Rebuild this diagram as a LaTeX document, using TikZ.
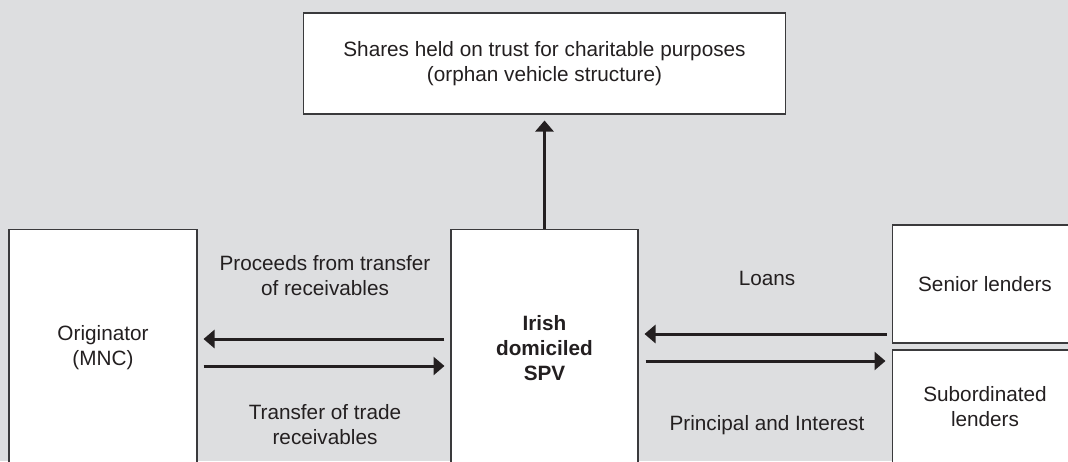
\documentclass[tikz,border=0pt]{standalone}
\usepackage{fontspec}
\setmainfont{Liberation Sans}
\definecolor{panelbg}{HTML}{DDDEE0}
\definecolor{inkdark}{HTML}{231F20}
\definecolor{framegray}{HTML}{3A3A3C}
\usetikzlibrary{arrows.meta, positioning, calc}
\tikzset{
  entity/.style={
    draw=framegray, fill=white, line width=0.6pt,
    font=\fontsize{11.8}{14.2}\selectfont, text=inkdark, align=center,
    inner sep=0pt
  },
  flow/.style={-{Triangle[length=0.22cm,width=0.36cm]}, line width=1.7pt,
    color=inkdark, shorten >=0.12cm},
  flowlbl/.style={font=\fontsize{11.8}{14.2}\selectfont, text=inkdark, align=center},
}
\begin{document}
\begin{tikzpicture}[x=0.02cm, y=-0.02cm]
    \useasboundingbox (0,0) rectangle (1068,461);
    \clip (0,0) rectangle (1068,461);
    \fill[panelbg] (0,0) rectangle (1068,461);

    \node[entity, minimum width=9.66cm, minimum height=2.02cm] (trust) at (544.5,63.5)
      {Shares held on trust for charitable purposes\\(orphan vehicle structure)};

    \node[entity, minimum width=3.76cm, minimum height=4.76cm] (orig) at (103,348)
      {Originator\\(MNC)};

    \node[entity, minimum width=3.74cm, minimum height=4.76cm] (spv) at (544.5,348)
      {\textbf{Irish}\\\textbf{domiciled}\\\textbf{SPV}};

    \node[entity, minimum width=3.72cm, minimum height=2.36cm] (senior) at (985,284)
      {Senior lenders};

    \node[entity, minimum width=3.72cm, minimum height=2.28cm] (subord) at (985,407)
      {Subordinated\\lenders};

    % SPV owned by the trust
    \draw[flow] (spv.north) -- (trust.south);

    % originator side
    \coordinate (spvwu) at ($(spv.west)+(0,-9)$);
    \coordinate (origel) at ($(orig.east)+(0,18)$);
    \draw[flow, shorten <=0.12cm] (spvwu) -- (orig.east |- spvwu);
    \draw[flow, shorten <=0.12cm] (origel) -- (spv.west |- origel);
    \node[flowlbl] (proceeds) at (325,276) {Proceeds from transfer\\of receivables};
    \node[flowlbl] (transfer) at (325,425) {Transfer of trade\\receivables};

    % lender side
    \coordinate (spveu) at ($(spv.east)+(0,-14)$);
    \coordinate (spvel) at ($(spv.east)+(0,13)$);
    \draw[flow, shorten <=0.1cm] (senior.west |- spveu) -- (spveu);
    \draw[flow, shorten <=0.14cm] (spvel) -- (subord.west |- spvel);
    \node[flowlbl] (loans) at (767,278) {Loans};
    \node[flowlbl] (repay) at (767,425) {Principal and Interest};
\end{tikzpicture}
\end{document}
